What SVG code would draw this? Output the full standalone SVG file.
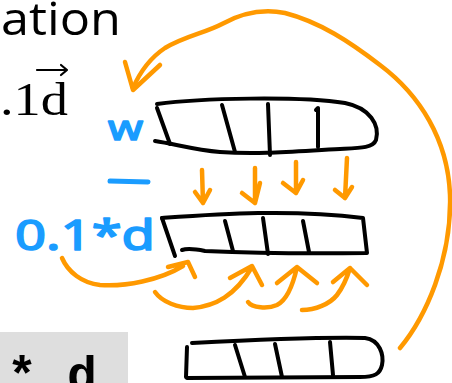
<svg xmlns="http://www.w3.org/2000/svg" width="452" height="383" viewBox="0 0 452 383">
<style>
.ink{fill:none;stroke:#000;stroke-width:4;stroke-linecap:round;stroke-linejoin:round}
.or{fill:none;stroke:#ff9900;stroke-width:4.5;stroke-linecap:round;stroke-linejoin:round}
.bl{fill:#1a9cff;stroke:#1a9cff;stroke-width:1.6;stroke-linejoin:round;font-family:"Noto Sans","DejaVu Sans",sans-serif}
</style>
<rect width="452" height="383" fill="#fff"/>
<g id="title-text">
<text x="1" y="35" font-family="Open Sans, Liberation Sans, sans-serif" font-size="46" textLength="120" lengthAdjust="spacingAndGlyphs" fill="#000">ation</text>
<text x="0" y="115" font-family="Liberation Serif, serif" font-size="47" textLength="68" lengthAdjust="spacingAndGlyphs" fill="#000">.1d</text>
<path d="M37,70 L67,70 M61,65 L67,70 L61,75" fill="none" stroke="#000" stroke-width="2.2" stroke-linecap="round" stroke-linejoin="round"/>
</g>
<g id="code-box">
<rect x="0" y="332" width="128" height="51" fill="#dedede"/>
<text x="7" y="391" font-family="Liberation Mono, monospace" font-weight="bold" font-size="50" fill="#000">* d</text>
</g>
<g id="label-w">
<text class="bl" x="108" y="140" font-size="34" textLength="35" lengthAdjust="spacingAndGlyphs">w</text>
<path d="M110,181 L148,182" fill="none" stroke="#1a9cff" stroke-width="5" stroke-linecap="round"/>
</g>
<g id="label-d">
<text class="bl" x="15" y="250" font-size="42" textLength="140" lengthAdjust="spacingAndGlyphs">0.1*d</text>
</g>
<g id="box-w">
<path class="ink" d="M157,104 C200,98 300,96 345,103 C370,108 380,125 376,140 C373,148 360,148 340,149 C300,151 260,155 220,152 C195,150 175,144 155,141"/>
<path class="ink" d="M157,108 L170,144 M222,105 L235,152 M268,104 L270,155 M316,110 L318,108 L318,147"/>
</g>
<g id="box-d">
<path class="ink" d="M162,218 C220,214 290,209 363,218 L367,253 C300,254 250,253 205,251 C195,249 188,248 182,250"/>
<path class="ink" d="M162,218 L175,256 M225,221 L233,251 M263,218 L268,254 M303,221 L309,252"/>
</g>
<g id="box-new">
<path class="ink" d="M192,343 C250,340 320,337 365,338 C380,340 384,355 382,365 C380,374 375,377 360,377 C300,377 240,378 187,378"/>
<path class="ink" d="M187,347 L186,377 M235,345 L245,377 M275,344 L282,377 M330,342 L333,375"/>
</g>
<g id="connectors">
<path class="or" d="M400,348 C425,318 452,260 450,195 C448,140 420,95 380,65 C350,42 320,22 285,13 C260,8 240,14 222,24 C205,33 185,36 165,48 C150,58 140,72 133,88"/>
<path class="or" d="M125,62 L133,90 L160,65"/>
<path class="or" d="M202,170 L203,203 M195,192 L203,203 L210,190"/>
<path class="or" d="M255,168 L255,203 M242,193 L255,203 L260,183"/>
<path class="or" d="M296,162 L296,193 M283,183 L296,193 L303,180"/>
<path class="or" d="M347,158 L345,198 M335,190 L345,198 L352,187"/>
<path class="or" d="M62,258 C68,272 82,283 100,285 C125,287 160,280 183,266 M168,267 L188,262 L195,277"/>
<path class="or" d="M155,292 C162,302 178,308 193,308 C215,306 235,296 252,267 M230,278 L252,266 L262,285"/>
<path class="or" d="M248,302 C252,308 268,309 277,305 C287,300 293,285 297,267 M277,283 L297,267 L317,283"/>
<path class="or" d="M302,310 C315,310 330,304 337,295 C343,287 347,278 350,268 M333,282 L350,268 L367,285"/>
</g>
</svg>
